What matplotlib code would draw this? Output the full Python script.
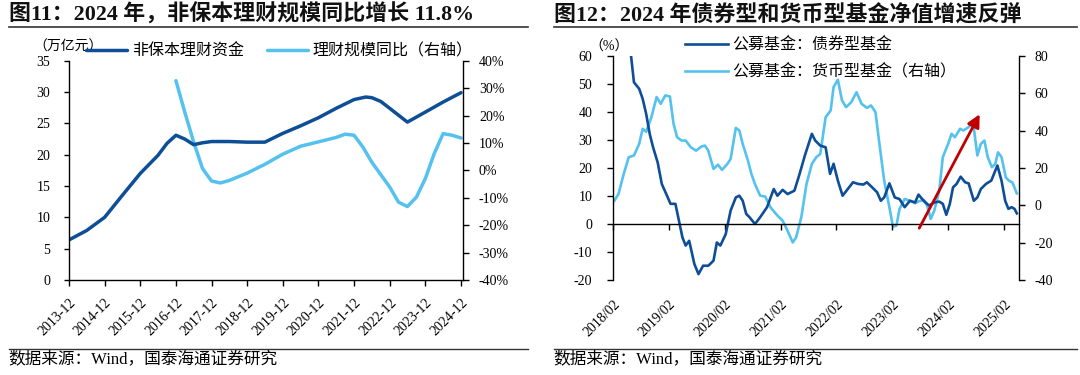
import matplotlib
matplotlib.use('Agg')
import matplotlib.pyplot as plt
import matplotlib.dates as mdates
from matplotlib.lines import Line2D
import pandas as pd

plt.rcParams['font.family'] = ['Liberation Serif', 'Noto Sans CJK SC', 'DejaVu Sans']
plt.rcParams['axes.unicode_minus'] = False

DARK = '#0E4E96'
LIGHT = '#55C1EF'

# ---------------- Left chart data ----------------
wm_dates = ['2013-12-31', '2014-06-30', '2014-12-31', '2015-06-30', '2015-12-31',
            '2016-06-30', '2016-09-30', '2016-12-31', '2017-03-31', '2017-06-30', '2017-09-30',
            '2017-12-31', '2018-06-30', '2018-12-31', '2019-06-30', '2019-12-31', '2020-06-30',
            '2020-12-31', '2021-06-30', '2021-12-31', '2022-04-30', '2022-06-30', '2022-09-30',
            '2022-12-31', '2023-06-30', '2023-12-31', '2024-06-30', '2024-12-31']
wm_scale = [6.4, 7.9, 10.0, 13.5, 17.0, 19.9, 21.8, 23.1, 22.5, 21.6, 21.9,
            22.1, 22.1, 22.0, 22.0, 23.4, 24.6, 25.9, 27.4, 28.8, 29.2, 29.1, 28.5,
            27.4, 25.2, 26.8, 28.4, 29.9]
wm_yoy_dates = ['2016-12-31', '2017-03-31', '2017-06-30', '2017-09-30', '2017-12-31',
                '2018-03-31', '2018-06-30', '2018-12-31', '2019-06-30', '2019-12-31',
                '2020-06-30', '2020-12-31', '2021-06-30', '2021-09-30', '2021-12-31',
                '2022-03-31', '2022-06-30', '2022-12-31', '2023-03-31', '2023-06-30',
                '2023-09-30', '2023-12-31', '2024-03-31', '2024-06-30', '2024-09-30',
                '2024-12-31']
wm_yoy = [32.7, 21.3, 10.4, 0.6, -3.9, -4.6, -3.7, -1.0, 2.2, 5.9,
          8.8, 10.4, 12.0, 13.2, 12.8, 8.5, 3.0, -6.1, -11.6, -13.2,
          -9.8, -3.0, 6.1, 13.4, 12.8, 11.8]
wm_ticks = ['2013-12', '2014-12', '2015-12', '2016-12', '2017-12', '2018-12',
            '2019-12', '2020-12', '2021-12', '2022-12', '2023-12', '2024-12']

# ---------------- Right chart data ----------------
bond_dates = ['2018-05-26', '2018-06-18', '2018-07-22', '2018-08-14', '2018-09-06', '2018-09-29',
              '2018-10-21', '2018-11-20', '2018-12-17', '2019-01-20', '2019-02-12', '2019-03-16',
              '2019-04-08', '2019-05-01', '2019-05-22', '2019-06-14', '2019-07-18', '2019-08-14',
              '2019-09-13', '2019-10-17', '2019-11-20', '2019-12-12', '2020-01-04', '2020-02-08',
              '2020-03-11', '2020-04-14', '2020-05-07', '2020-05-29', '2020-06-21', '2020-07-13',
              '2020-08-17', '2020-09-20', '2020-11-04', '2020-12-18', '2021-01-11', '2021-02-14',
              '2021-03-18', '2021-05-02', '2021-06-05', '2021-07-09', '2021-08-24', '2021-09-15',
              '2021-10-18', '2021-11-22', '2021-12-21', '2022-01-13', '2022-02-10', '2022-03-13',
              '2022-04-16', '2022-05-20', '2022-06-23', '2022-07-27', '2022-08-19', '2022-09-22',
              '2022-10-25', '2022-11-18', '2022-12-10', '2023-01-13', '2023-02-17', '2023-03-20',
              '2023-04-23', '2023-05-27', '2023-06-30', '2023-07-22', '2023-08-25', '2023-09-29',
              '2023-11-02', '2023-12-05', '2023-12-28', '2024-01-20', '2024-02-12', '2024-03-04',
              '2024-03-27', '2024-04-23', '2024-05-22', '2024-06-14', '2024-07-18', '2024-08-10',
              '2024-09-02', '2024-10-05', '2024-11-09', '2024-12-19', '2025-01-15', '2025-02-08',
              '2025-03-01', '2025-03-22', '2025-04-10', '2025-04-25']
bond_growth = [62, 50.6, 48.3, 44.7, 39.3, 32.2, 27.4, 22.0, 14.3, 10.1,
               7.2, 7.2, 1.2, -4.8, -7.7, -6.0, -14.3, -17.9, -14.9, -14.9,
               -13.1, -6.6, -7.7, -3.6, 4.8, 9.5, 10.1, 8.3, 3.6, 2.4,
               0.0, 2.4, 6.0, 12.5, 10.1, 12.2, 10.7, 11.9, 17.9, 24.4,
               32.2, 29.8, 28.0, 27.4, 17.9, 21.5, 15.5, 10.1, 12.5, 14.9,
               14.3, 14.1, 14.9, 13.1, 11.3, 8.3, 9.5, 14.5, 9.5, 8.9,
               6.0, 8.3, 7.7, 10.5, 8.3, 6.6, 7.7, 8.0, 7.2, 3.3,
               7.2, 13.1, 14.3, 16.9, 14.9, 14.5, 8.3, 9.5, 12.5, 14.3,
               15.5, 20.9, 15.5, 8.3, 5.4, 6.0, 5.4, 3.8]
money_dates = ['2018-02-10', '2018-03-09', '2018-04-12', '2018-05-15', '2018-06-18', '2018-07-22',
               '2018-08-14', '2018-09-06', '2018-10-10', '2018-11-13', '2018-12-10', '2019-01-09',
               '2019-02-08', '2019-03-04', '2019-03-27', '2019-04-25', '2019-05-22', '2019-06-25',
               '2019-07-29', '2019-09-02', '2019-09-25', '2019-10-17', '2019-11-20', '2019-12-19',
               '2020-01-15', '2020-02-19', '2020-03-11', '2020-04-14', '2020-05-07', '2020-05-29',
               '2020-07-02', '2020-07-25', '2020-08-17', '2020-09-20', '2020-10-23', '2020-11-27',
               '2021-01-11', '2021-02-14', '2021-03-18', '2021-04-21', '2021-05-13', '2021-06-16',
               '2021-07-20', '2021-08-24', '2021-09-22', '2021-10-18', '2021-11-22', '2021-12-25',
               '2022-01-13', '2022-02-10', '2022-03-09', '2022-04-05', '2022-05-09', '2022-06-12',
               '2022-07-15', '2022-08-19', '2022-09-15', '2022-10-14', '2022-11-06', '2022-12-10',
               '2023-01-13', '2023-02-05', '2023-02-28', '2023-03-20', '2023-04-23', '2023-05-27',
               '2023-06-30', '2023-07-22', '2023-08-25', '2023-09-17', '2023-10-10', '2023-11-02',
               '2023-12-05', '2023-12-28', '2024-02-01', '2024-02-23', '2024-03-16', '2024-04-19',
               '2024-05-11', '2024-06-14', '2024-07-13', '2024-08-10', '2024-09-02', '2024-09-25',
               '2024-10-17', '2024-11-13', '2024-12-05', '2024-12-23', '2025-01-15', '2025-02-12',
               '2025-03-04', '2025-03-27', '2025-04-25']
money_growth = [2.5, 6.1, 16.8, 25.8, 26.7, 32.9, 41.0, 39.4, 47.2, 58.0,
                54.4, 58.9, 58.3, 43.6, 36.5, 34.7, 34.7, 31.1, 29.3, 31.5,
                32.0, 29.3, 19.5, 21.8, 19.0, 22.2, 24.9, 41.5, 40.1, 32.9,
                24.0, 16.8, 11.4, 5.2, 4.7, -1.1, -5.5, -8.2, -13.6, -19.9,
                -17.2, -6.4, 11.4, 22.2, 25.8, 27.5, 47.2, 50.8, 63.3, 67.3,
                56.2, 52.6, 55.3, 60.6, 54.4, 52.2, 53.5, 49.9, 34.7, 13.2,
                -1.1, -11.4, -10.9, -2.0, 3.4, 2.5, 1.1, 2.1, 2.9, -0.2,
                -7.3, -2.9, 7.9, 25.8, 32.9, 38.3, 36.5, 41.0, 40.1, 41.9,
                44.5, 26.7, 32.9, 34.7, 25.8, 20.4, 22.2, 28.4, 25.8, 15.0,
                13.2, 12.3, 6.4]
fund_ticks = ['2018/02', '2019/02', '2020/02', '2021/02', '2022/02', '2023/02', '2024/02', '2025/02']


def d2n(seq):
    return mdates.date2num(pd.to_datetime(seq))


W, H = 1080, 375
fig = plt.figure(figsize=(W / 100, H / 100), dpi=100)


def fx(px):
    return px / W


def fy(py):
    return 1 - py / H


TICK_FONT = 10

# ================= Left chart =================
axL = fig.add_axes([fx(69), fy(280), fx(463 - 69), (280 - 60.7) / H])
axLr = axL.twinx()
axL.set_zorder(axLr.get_zorder() + 1)
axL.patch.set_visible(False)

l1, = axL.plot(d2n(wm_dates), wm_scale, color=DARK, lw=2.5, solid_joinstyle='round', solid_capstyle='round')
l2, = axLr.plot(d2n(wm_yoy_dates), wm_yoy, color=LIGHT, lw=2.5, solid_joinstyle='round', solid_capstyle='round')

wm_tick_pos = mdates.date2num(pd.to_datetime(wm_ticks, format='%Y-%m') + pd.offsets.MonthEnd(0))
axL.set_xlim(wm_tick_pos[0], mdates.date2num(pd.Timestamp('2025-01-20')))
axL.set_ylim(0, 35)
axL.set_yticks(range(0, 36, 5))
axLr.set_ylim(-40, 40)
axLr.set_yticks(range(-40, 41, 10))
axLr.set_yticklabels([f'{v}%' for v in range(-40, 41, 10)])
axL.set_xticks(wm_tick_pos)
axL.set_xticklabels(wm_ticks, rotation=45, ha='right', rotation_mode='anchor')

for a in (axL, axLr):
    a.spines['top'].set_visible(False)
axL.spines['right'].set_visible(False)
axLr.spines['left'].set_visible(False)
axLr.spines['bottom'].set_visible(False)
for s in ('left', 'bottom'):
    axL.spines[s].set_linewidth(1.0)
axLr.spines['right'].set_linewidth(1.0)

axL.tick_params(axis='y', direction='out', length=3.5, width=1, pad=10, labelsize=TICK_FONT)
axL.tick_params(axis='x', direction='out', length=4.5, width=1, pad=7, labelsize=TICK_FONT)
axLr.tick_params(axis='y', direction='out', length=4.5, width=1, pad=7, labelsize=TICK_FONT)

# ================= Right chart =================
axR = fig.add_axes([fx(613), fy(280), fx(1018.5 - 613), (280 - 56) / H])
axRr = axR.twinx()
axR.set_zorder(axRr.get_zorder() + 1)
axR.patch.set_visible(False)

b1, = axR.plot(d2n(bond_dates), bond_growth, color=DARK, lw=1.9, solid_joinstyle='round')
m1, = axRr.plot(d2n(money_dates), money_growth, color=LIGHT, lw=1.9, solid_joinstyle='round')

fund_tick_pos = mdates.date2num(pd.to_datetime(fund_ticks, format='%Y/%m'))
axR.set_xlim(fund_tick_pos[0], mdates.date2num(pd.Timestamp('2025-05-06')))
axR.set_ylim(-20, 60)
axR.set_yticks(range(-20, 61, 10))
axRr.set_ylim(-40, 80)
axRr.set_yticks(range(-40, 81, 20))

axR.spines['bottom'].set_position(('data', 0))
axR.spines['bottom'].set_linewidth(1.0)
axR.spines['top'].set_visible(False)
axR.spines['right'].set_visible(False)
axRr.spines['top'].set_visible(False)
axRr.spines['bottom'].set_visible(False)
axRr.spines['left'].set_visible(False)
axR.spines['left'].set_linewidth(1.0)
axRr.spines['right'].set_linewidth(1.0)

axR.set_xticks(fund_tick_pos)
axR.tick_params(axis='x', direction='out', length=4.5, width=1, labelbottom=False)
axR.tick_params(axis='y', direction='out', length=4, width=1, pad=11, labelsize=TICK_FONT)
axRr.tick_params(axis='y', direction='out', length=4.5, width=1, pad=7, labelsize=TICK_FONT)

sec = axR.secondary_xaxis('bottom')
sec.set_xticks(fund_tick_pos)
sec.set_xticklabels(fund_ticks, rotation=45, ha='right', rotation_mode='anchor')
sec.tick_params(axis='x', length=0, pad=13, labelsize=TICK_FONT)
sec.spines['bottom'].set_visible(False)

# red trend arrow
axR.annotate('', xy=(mdates.date2num(pd.Timestamp('2024-08-25')), 39.2),
             xytext=(mdates.date2num(pd.Timestamp('2023-07-27')), -1.5),
             arrowprops=dict(arrowstyle='-|>,head_length=0.75,head_width=0.38',
                             color='#C00000', lw=2.0, mutation_scale=10,
                             shrinkA=0, shrinkB=0))

# ================= Legends & texts =================
LEG_FONT = 11.5
fig.legend([l1, l2], ['非保本理财资金', '理财规模同比（右轴）'], ncol=2, loc='center left',
           bbox_to_anchor=(fx(86), fy(51.7)), frameon=False, fontsize=LEG_FONT,
           handlelength=2.57, handletextpad=0.3, columnspacing=1.44,
           borderpad=0, borderaxespad=0)
fig.legend([b1, m1], ['公募基金：债券型基金', '公募基金：货币型基金（右轴）'], ncol=1, loc='center left',
           bbox_to_anchor=(fx(684.6), fy(58.9)), frameon=False, fontsize=LEG_FONT,
           handlelength=2.7, handletextpad=0.25, labelspacing=0.65,
           borderpad=0, borderaxespad=0)

fig.text(fx(33), fy(46.7), '（万亿元）', fontsize=10, va='center', ha='left')
fig.text(fx(589), fy(46.7), '（%）', fontsize=10, va='center', ha='left')

TITLE_C = '#111111'
fig.text(fx(8.6), fy(15), '图11：2024 年，非保本理财规模同比增长 11.8%', fontsize=15.8,
         fontweight='bold', va='center', ha='left', color=TITLE_C)
fig.text(fx(553.8), fy(15), '图12：2024 年债券型和货币型基金净值增速反弹', fontsize=15.8,
         fontweight='bold', va='center', ha='left', color=TITLE_C)

for x0, x1 in ((8.6, 528), (553.8, 1077)):
    fig.add_artist(Line2D([fx(x0), fx(x1)], [fy(26.8)] * 2, color='#333333', lw=1.2,
                          transform=fig.transFigure))
    fig.add_artist(Line2D([fx(x0), fx(x1)], [fy(348.6)] * 2, color='#333333', lw=1.0,
                          transform=fig.transFigure))

fig.text(fx(8.6), fy(359.6), '数据来源：Wind，国泰海通证券研究', fontsize=12, va='center', ha='left')
fig.text(fx(553.8), fy(359.6), '数据来源：Wind，国泰海通证券研究', fontsize=12, va='center', ha='left')

fig.savefig('out.png', dpi=100)
